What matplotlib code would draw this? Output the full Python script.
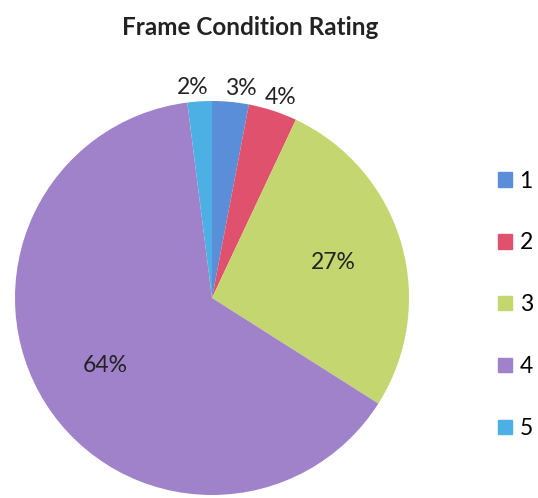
import numpy as np
import matplotlib
matplotlib.use("Agg")
from matplotlib import pyplot as plt
from matplotlib.patches import Patch

plt.rcParams['font.family'] = ['Lato', 'DejaVu Sans']

ratings = ["1", "2", "3", "4", "5"]
shares = [3, 4, 27, 64, 2]
colors = ["#5a8ed8", "#e0516d", "#c4d66f", "#9f82c9", "#4cb0e4"]

fig = plt.figure(figsize=(5.38, 4.98), dpi=100)
ax = fig.add_axes([15 / 538, 3 / 498, 394 / 538, 394 / 498])

wedges, texts, pcts = ax.pie(shares, colors=colors, startangle=90, counterclock=False,
                             autopct="%d%%", pctdistance=0.64,
                             wedgeprops=dict(linewidth=0))
ax.set_xlim(-1, 1)
ax.set_ylim(-1, 1)
ax.set_aspect("equal")

for w, t in zip(wedges, pcts):
    t.set_fontsize(16.5)
    t.set_color("#222222")
    frac = (w.theta2 - w.theta1) / 360
    if frac < 0.1:
        mid = np.deg2rad((w.theta1 + w.theta2) / 2)
        xs = 1.45 if frac < 0.035 else 1.05
        t.set_position((1.07 * np.cos(mid) * xs, 1.07 * np.sin(mid)))

fig.text(0.465, 0.945, "Frame Condition Rating", ha="center", va="center",
         fontsize=17.5, fontweight="bold", color="#222222")

handles = [Patch(facecolor=c, edgecolor=c) for c in colors]
fig.legend(handles, ratings, loc="center left", bbox_to_anchor=(0.887, 0.388),
           frameon=False, fontsize=16.5, handlelength=0.6, handleheight=0.6,
           handletextpad=0.35, labelspacing=1.78)

fig.savefig("out.png", dpi=100)
